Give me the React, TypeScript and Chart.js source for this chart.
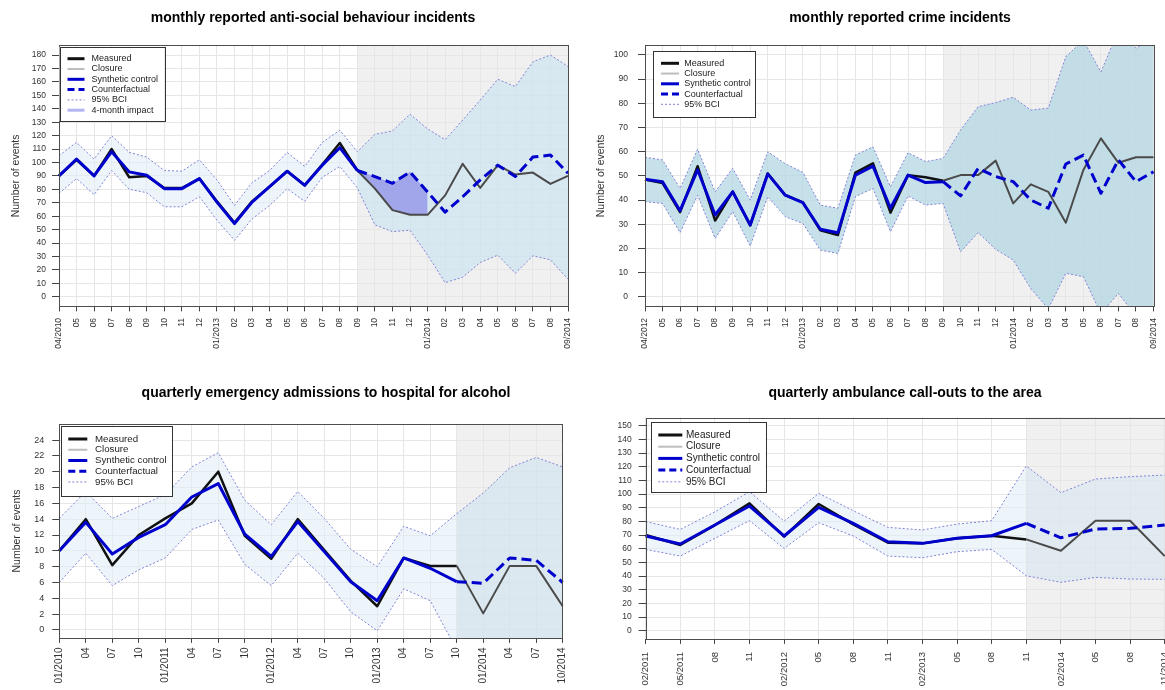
import React, { useEffect, useRef } from "react";
import { Chart, registerables } from "chart.js";

Chart.register(...registerables);

const FONT = "'Liberation Sans', Arial, Helvetica, sans-serif";
Chart.defaults.font.family = FONT;

// ---------- data ----------
const LEGEND_NAMES = ["Measured", "Closure", "Synthetic control", "Counterfactual", "95% BCI", "4-month impact"];

const ASB_TITLE = "monthly reported anti-social behaviour incidents";
const ASB_LABELS = ["04/2010", "05", "06", "07", "08", "09", "10", "11", "12", "01/2013", "02", "03", "04", "05", "06", "07", "08", "09", "10", "11", "12", "01/2014", "02", "03", "04", "05", "06", "07", "08", "09/2014"];
const ASB_MEASURED = [90, 102, 90, 110, 89, 90, 81, 81, 88, 71, 55, 71, 82, 93.5, 83, 98.5, 114.5, 94, 80.5, 64.5, 61, 61, 75.5, 99, 81, 98, 91, 92.5, 84, 90];
const ASB_SYNTH = [90, 102.5, 90, 108, 93, 90.5, 80.5, 80.5, 88, 70.5, 54.5, 70.5, 82, 93.5, 83, 98, 111, 94, 89.5, 84.5, 93, 78, 63, 74.5, 87, 98, 89.5, 104, 105.5, 92];
const ASB_UPPER = [105, 115, 102.5, 120, 107.5, 104, 94, 93.5, 102, 87, 68, 85, 94, 107.5, 97, 115, 124, 108, 121, 123.5, 136, 125, 117, 131.5, 146.5, 162, 156.5, 175, 180, 171.5];
const ASB_LOWER = [77, 88, 76, 94, 80, 77.5, 67, 67, 74.5, 57, 42, 58, 68, 80.5, 71, 89, 97, 81, 53.5, 48.5, 49.5, 31, 10.5, 14.5, 25.5, 31, 17.5, 30.5, 27.5, 13];
const ASB_Y_TICKS = [0, 10, 20, 30, 40, 50, 60, 70, 80, 90, 100, 110, 120, 130, 140, 150, 160, 170, 180];

const CRIME_TITLE = "monthly reported crime incidents";
const CRIME_LABELS = ["04/2012", "05", "06", "07", "08", "09", "10", "11", "12", "01/2013", "02", "03", "04", "05", "06", "07", "08", "09", "10", "11", "12", "01/2014", "02", "03", "04", "05", "06", "07", "08", "09/2014"];
const CRIME_MEASURED = [48.5, 47, 35, 54, 31.5, 43.5, 29.5, 51, 42, 39, 27.5, 25.5, 51.3, 55.2, 34.8, 50.3, 49.4, 48, 50.3, 50.3, 56.3, 38.6, 46.5, 43.4, 30.6, 52.4, 65.5, 55.4, 57.7, 57.7];
const CRIME_SYNTH = [48.6, 47.6, 35.6, 52.5, 33.8, 43.4, 29.7, 50.8, 42, 38.9, 27.9, 26.5, 50.3, 54, 36.6, 50.3, 47.2, 47.6, 41.7, 53.1, 49.7, 47.6, 40, 36.6, 54.9, 58.6, 42.8, 56.6, 47.6, 51.7];
const CRIME_UPPER = [57.7, 56.6, 44.8, 61, 43.4, 53.1, 40, 60, 55, 51.5, 37.9, 36.6, 58.6, 62, 45.5, 59.6, 55.9, 57.2, 69, 78.6, 80.3, 82.5, 77.2, 78, 99.3, 106, 93, 110, 102.8, 107];
const CRIME_LOWER = [39.3, 38.6, 26.5, 42, 24.1, 35.2, 21, 41.4, 33.1, 30.3, 19.3, 17.9, 41.4, 44.8, 26.9, 41.7, 37.9, 38.6, 18.6, 26.5, 19.6, 15.2, 3.4, -5, 9.7, 8.3, -7, 1.4, -8, -10];
const CRIME_Y_TICKS = [0, 10, 20, 30, 40, 50, 60, 70, 80, 90, 100];

const ALC_TITLE = "quarterly emergency admissions to hospital for alcohol";
const ALC_LABELS = ["01/2010", "04", "07", "10", "01/2011", "04", "07", "10", "01/2012", "04", "07", "10", "01/2013", "04", "07", "10", "01/2014", "04", "07", "10/2014"];
const ALC_MEASURED = [10, 14, 8.2, 12, 14.1, 16, 20, 11.9, 9, 14, 10.1, 6.2, 3, 9.1, 8.1, 8.1, 2.1, 8.1, 8.1, 3];
const ALC_SYNTH = [10, 13.6, 9.6, 11.7, 13.3, 16.8, 18.5, 12.1, 9.3, 13.7, 9.9, 6.1, 3.7, 9.1, 7.8, 6.1, 5.9, 9.1, 8.8, 6];
const ALC_UPPER = [14.1, 17.5, 14.1, 15.6, 17.1, 20.6, 22.4, 16.4, 13.3, 17.5, 14.1, 10.2, 8, 13.1, 11.9, 14.7, 17.3, 20.5, 21.8, 20.6];
const ALC_LOWER = [6, 9.7, 5.6, 7.6, 9.1, 12.7, 13.9, 8.3, 5.6, 9.7, 6.5, 2.3, -0.1, 5.2, 3.7, -2.5, -5, -5, -5, -5];
const ALC_Y_TICKS = [0, 2, 4, 6, 8, 10, 12, 14, 16, 18, 20, 22, 24];

const AMB_TITLE = "quarterly ambulance call-outs to the area";
const AMB_LABELS = ["02/2011", "05/2011", "08", "11", "02/2012", "05", "08", "11", "02/2013", "05", "08", "11", "02/2014", "05", "08", "11/2014"];
const AMB_MEASURED = [70, 62.7, 77.3, 93.2, 68.8, 92.7, 77.8, 64.4, 63.9, 67.6, 69.5, 66.8, 58.5, 80.5, 80.5, 54.6];
const AMB_SYNTH = [69.3, 63.4, 77.3, 91.2, 69.3, 90.2, 78.5, 65.1, 63.9, 67.6, 69.5, 78.5, 68, 74.4, 74.9, 77.3];
const AMB_UPPER = [79.8, 74.1, 87, 101.7, 80.2, 100.5, 87.8, 75.6, 73.7, 78, 80.5, 120.5, 101, 111, 112.7, 113.9];
const AMB_LOWER = [59.5, 54.6, 67.6, 80.5, 60.2, 79, 69.3, 54.6, 53.4, 57.8, 59.5, 40.2, 35.4, 39, 37.8, 37.6];
const AMB_Y_TICKS = [0, 10, 20, 30, 40, 50, 60, 70, 80, 90, 100, 110, 120, 130, 140, 150];

// ---------- styles ----------
const COL_MEASURED = "#111111";
const COL_MEASURED_POST = "#4a4a4a";
const COL_SYNTH = "#0000cd";
const COL_BCI = "#8282d6";
const COL_CLOSURE_BG = "#f0f0f0";
const COL_GRID = "#e6e6e6";

const LEGEND_STYLE: Record<string, { color: string; width: number; dash: number[] }> = {
  "Measured": { color: "#111", width: 3, dash: [] },
  "Closure": { color: "#bdbdbd", width: 2, dash: [] },
  "Synthetic control": { color: COL_SYNTH, width: 3, dash: [] },
  "Counterfactual": { color: COL_SYNTH, width: 3, dash: [7, 4] },
  "95% BCI": { color: COL_BCI, width: 1, dash: [2, 2] },
  "4-month impact": { color: "#b4b4f0", width: 3, dash: [] },
};

type Panel = {
  title: string;
  labels: string[];
  measured: number[];
  synth: number[];
  upper: number[];
  lower: number[];
  yTicks: number[];
  closure: number;
  impact?: [number, number];
  legendCount: number;
  yMin: number;
  yMax: number;
  canvas: { x: number; y: number; w: number; h: number };
  yAxisW: number;
  rightW: number;
  xAxisH: number;
  titlePad: [number, number];
  yTitle: boolean;
  yTitlePad: number;
  yTick: { size: number; len: number; pad: number };
  xTick: { size: number; len: number; pad: number };
  bandPre: string;
  bandPost: string;
  legend: { dx: number; dy: number; w: number; h: number; first: number; gap: number; s0: number; s1: number; tx: number; font: number };
};

const PANELS: Panel[] = [
  {
    title: ASB_TITLE, labels: ASB_LABELS, measured: ASB_MEASURED, synth: ASB_SYNTH, upper: ASB_UPPER, lower: ASB_LOWER,
    yTicks: ASB_Y_TICKS, closure: 17, impact: [17, 21], legendCount: 6, yMin: -7.2, yMax: 187.2,
    canvas: { x: 0, y: 0, w: 626, h: 365 }, yAxisW: 59, rightW: 58, xAxisH: 58.6, titlePad: [10.1, 18.5],
    yTitle: true, yTitlePad: 10, yTick: { size: 8.5, len: 7, pad: 6 }, xTick: { size: 8.5, len: 5, pad: 6.5 },
    bandPre: "rgba(225,238,246,0.6)", bandPost: "rgba(200,226,240,0.6)",
    legend: { dx: 0.5, dy: 1.3, w: 104.7, h: 74.3, first: 12, gap: 10.3, s0: 8, s1: 25, tx: 32, font: 9 },
  },
  {
    title: CRIME_TITLE, labels: CRIME_LABELS, measured: CRIME_MEASURED, synth: CRIME_SYNTH, upper: CRIME_UPPER, lower: CRIME_LOWER,
    yTicks: CRIME_Y_TICKS, closure: 17, legendCount: 5, yMin: -4, yMax: 104,
    canvas: { x: 585, y: 0, w: 630, h: 365 }, yAxisW: 60, rightW: 61.5, xAxisH: 58.6, titlePad: [10.1, 18.4],
    yTitle: true, yTitlePad: 9.5, yTick: { size: 8.5, len: 7, pad: 10 }, xTick: { size: 8.5, len: 5, pad: 6.5 },
    bandPre: "rgba(180,215,228,0.75)", bandPost: "rgba(180,215,228,0.75)",
    legend: { dx: 8.3, dy: 5.7, w: 102.4, h: 65.7, first: 12.3, gap: 10.25, s0: 7.7, s1: 25.7, tx: 31, font: 9 },
  },
  {
    title: ALC_TITLE, labels: ALC_LABELS, measured: ALC_MEASURED, synth: ALC_SYNTH, upper: ALC_UPPER, lower: ALC_LOWER,
    yTicks: ALC_Y_TICKS, closure: 15, legendCount: 5, yMin: -1, yMax: 26,
    canvas: { x: 0, y: 370, w: 652, h: 320 }, yAxisW: 59.3, rightW: 89.3, xAxisH: 52.1, titlePad: [15.1, 22.3],
    yTitle: true, yTitlePad: 11, yTick: { size: 9, len: 7, pad: 8 }, xTick: { size: 10, len: 5, pad: 4.5 },
    bandPre: "rgba(225,238,246,0.6)", bandPost: "rgba(205,226,238,0.6)",
    legend: { dx: 1.7, dy: 1.5, w: 110.7, h: 70.3, first: 13.3, gap: 10.75, s0: 7.3, s1: 26.3, tx: 34, font: 9.7 },
  },
  {
    title: AMB_TITLE, labels: AMB_LABELS, measured: AMB_MEASURED, synth: AMB_SYNTH, upper: AMB_UPPER, lower: AMB_LOWER,
    yTicks: AMB_Y_TICKS, closure: 11, legendCount: 5, yMin: -6, yMax: 156,
    canvas: { x: 585, y: 370, w: 640, h: 320 }, yAxisW: 60.7, rightW: 60.3, xAxisH: 51.1, titlePad: [15.1, 15.6],
    yTitle: false, yTitlePad: 10, yTick: { size: 8.5, len: 7, pad: 7 }, xTick: { size: 9.5, len: 5, pad: 8 },
    bandPre: "rgba(225,238,246,0.6)", bandPost: "rgba(212,230,240,0.55)",
    legend: { dx: 5, dy: 4.8, w: 115, h: 70.4, first: 12.7, gap: 11.7, s0: 7.6, s1: 31.6, tx: 35.3, font: 10 },
  },
];

// ---------- plugins ----------
function closurePlugin(p: Panel) {
  return {
    id: "closureBg",
    beforeDraw(chart: any) {
      const { ctx, chartArea: a, scales } = chart;
      const xc = scales.x.getPixelForValue(p.closure);
      ctx.save();
      ctx.fillStyle = COL_CLOSURE_BG;
      ctx.fillRect(xc, a.top, a.right - xc, a.bottom - a.top);
      ctx.restore();
    },
  };
}

function boxPlugin() {
  return {
    id: "plotBox",
    afterDatasetsDraw(chart: any) {
      const { ctx, chartArea: a } = chart;
      ctx.save();
      ctx.strokeStyle = "#4d4d4d";
      ctx.lineWidth = 1;
      ctx.strokeRect(Math.round(a.left) + 0.5, Math.round(a.top) + 0.5, Math.round(a.right - a.left), Math.round(a.bottom - a.top));
      ctx.restore();
    },
  };
}

function legendPlugin(p: Panel) {
  return {
    id: "rLegend",
    afterDraw(chart: any) {
      const { ctx, chartArea: a } = chart;
      const L = p.legend;
      const x0 = a.left + L.dx;
      const y0 = a.top + L.dy;
      ctx.save();
      ctx.fillStyle = "#ffffff";
      ctx.fillRect(x0, y0, L.w, L.h);
      ctx.strokeStyle = "#333";
      ctx.lineWidth = 1;
      ctx.strokeRect(Math.round(x0) + 0.5, Math.round(y0) + 0.5, Math.round(L.w), Math.round(L.h));
      ctx.font = `${L.font}px ${FONT}`;
      ctx.textBaseline = "middle";
      ctx.textAlign = "left";
      LEGEND_NAMES.slice(0, p.legendCount).forEach((name, i) => {
        const st = LEGEND_STYLE[name];
        const y = y0 + L.first + i * L.gap;
        ctx.beginPath();
        ctx.strokeStyle = st.color;
        ctx.lineWidth = st.width;
        ctx.setLineDash(st.dash);
        ctx.moveTo(x0 + L.s0, y);
        ctx.lineTo(x0 + L.s1, y);
        ctx.stroke();
        ctx.setLineDash([]);
        ctx.fillStyle = "#222";
        ctx.fillText(name, x0 + L.tx, y);
      });
      ctx.restore();
    },
  };
}

// ---------- config ----------
function buildConfig(p: Panel): any {
  const c = p.closure;
  const pre = (arr: number[]) => arr.map((v, i) => (i <= c ? v : null));
  const post = (arr: number[]) => arr.map((v, i) => (i >= c ? v : null));
  const datasets: any[] = [];
  const base = { pointRadius: 0, pointHoverRadius: 0, tension: 0 };

  const iUpPre = datasets.length;
  datasets.push({ ...base, label: "upper-pre", data: pre(p.upper), borderWidth: 0, fill: false, order: 9 });
  datasets.push({ ...base, label: "band-pre", data: pre(p.lower), borderWidth: 0, fill: iUpPre, backgroundColor: p.bandPre, order: 8 });
  const iUpPost = datasets.length;
  datasets.push({ ...base, label: "upper-post", data: post(p.upper), borderWidth: 0, fill: false, order: 9 });
  datasets.push({ ...base, label: "band-post", data: post(p.lower), borderWidth: 0, fill: iUpPost, backgroundColor: p.bandPost, order: 7 });

  if (p.impact) {
    const [s, e] = p.impact;
    const win = (arr: number[]) => arr.map((v, i) => (i >= s && i <= e ? v : null));
    const iImpM = datasets.length;
    datasets.push({ ...base, label: "impact-measured", data: win(p.measured), borderWidth: 0, fill: false, order: 9 });
    datasets.push({ ...base, label: "4-month impact", data: win(p.synth), borderWidth: 0, fill: iImpM, backgroundColor: "rgba(140,138,232,0.72)", order: 6 });
  }

  datasets.push({ ...base, label: "95% BCI upper", data: p.upper, borderColor: COL_BCI, borderWidth: 1, borderDash: [2, 2], fill: false, order: 5 });
  datasets.push({ ...base, label: "95% BCI lower", data: p.lower, borderColor: COL_BCI, borderWidth: 1, borderDash: [2, 2], fill: false, order: 5 });

  datasets.push({
    ...base, label: "Measured", data: p.measured, borderColor: COL_MEASURED, borderWidth: 2.5, fill: false, order: 2,
    borderJoinStyle: "round",
    segment: {
      borderColor: (ctx: any) => (ctx.p0DataIndex >= c ? COL_MEASURED_POST : undefined),
      borderWidth: (ctx: any) => (ctx.p0DataIndex >= c ? 2 : undefined),
    },
  });
  datasets.push({
    ...base, label: "Synthetic control", data: p.synth, borderColor: COL_SYNTH, borderWidth: 3, fill: false, order: 1,
    borderJoinStyle: "round",
    segment: {
      borderDash: (ctx: any) => (ctx.p0DataIndex >= c ? [10, 5] : undefined),
    },
  });

  const yTicks = p.yTicks;
  return {
    type: "line",
    data: { labels: p.labels, datasets },
    options: {
      animation: false,
      responsive: false,
      devicePixelRatio: 1,
      events: [],
      layout: { padding: 0 },
      plugins: {
        legend: { display: false },
        tooltip: { enabled: false },
        filler: { propagate: false },
        title: {
          display: true,
          text: p.title,
          fullSize: true,
          align: "center",
          color: "#000",
          font: { size: 14, weight: "bold", family: FONT, lineHeight: 1.2 },
          padding: { top: p.titlePad[0], bottom: p.titlePad[1] },
        },
      },
      scales: {
        x: {
          type: "category",
          offset: false,
          border: { display: false },
          grid: { color: COL_GRID, lineWidth: 1, drawTicks: true, tickLength: p.xTick.len, tickColor: "#444", tickWidth: 1 },
          ticks: { autoSkip: false, minRotation: 90, maxRotation: 90, color: "#333", padding: p.xTick.pad, font: { size: p.xTick.size, family: FONT } },
          afterFit: (s: any) => {
            s.height = p.xAxisH;
            s.paddingLeft = 0;
            s.paddingRight = 0;
          },
        },
        y: {
          type: "linear",
          position: "left",
          min: p.yMin,
          max: p.yMax,
          border: { display: false },
          grid: { color: COL_GRID, lineWidth: 1, drawTicks: true, tickLength: p.yTick.len, tickColor: "#444", tickWidth: 1 },
          ticks: { autoSkip: false, maxTicksLimit: 100, color: "#333", padding: p.yTick.pad, font: { size: p.yTick.size, family: FONT } },
          afterBuildTicks: (s: any) => {
            s.ticks = yTicks.map((v) => ({ value: v }));
          },
          title: {
            display: p.yTitle,
            text: "Number of events",
            color: "#333",
            font: { size: 10.5, family: FONT, lineHeight: 1.2 },
            padding: { top: p.yTitlePad, bottom: 0 },
          },
          afterFit: (s: any) => {
            s.width = p.yAxisW;
            s.paddingTop = 0;
            s.paddingBottom = 0;
          },
        },
        yR: {
          type: "linear",
          position: "right",
          display: true,
          min: 0,
          max: 1,
          border: { display: false },
          grid: { display: false, drawTicks: false },
          ticks: { display: false },
          afterFit: (s: any) => {
            s.width = p.rightW;
            s.paddingTop = 0;
            s.paddingBottom = 0;
          },
        },
      },
    },
    plugins: [closurePlugin(p), boxPlugin(), legendPlugin(p)],
  };
}

function ChartPanel({ panel }: { panel: Panel }) {
  const ref = useRef<HTMLCanvasElement>(null);
  useEffect(() => {
    if (!ref.current) return;
    const chart = new Chart(ref.current, buildConfig(panel));
    return () => chart.destroy();
  }, [panel]);
  const { x, y, w, h } = panel.canvas;
  return (
    <canvas
      ref={ref}
      width={w}
      height={h}
      style={{ position: "absolute", left: x, top: y, width: w, height: h }}
    />
  );
}

export default function App() {
  return (
    <div
      style={{
        position: "fixed",
        left: 0,
        top: 0,
        width: 1165,
        height: 690,
        overflow: "hidden",
        background: "#ffffff",
      }}
    >
      {PANELS.map((p, i) => (
        <ChartPanel key={i} panel={p} />
      ))}
    </div>
  );
}
